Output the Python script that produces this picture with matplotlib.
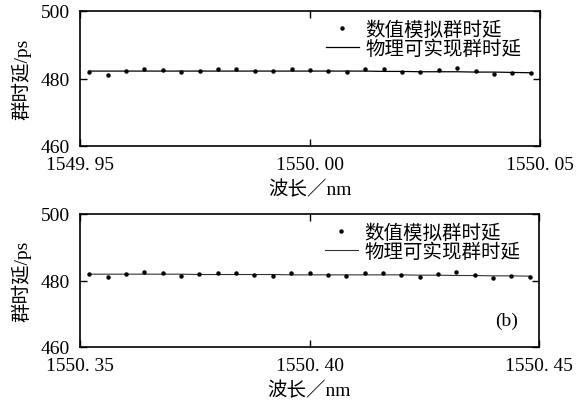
import matplotlib
matplotlib.use("Agg")
import matplotlib.pyplot as plt

plt.rcParams['font.family'] = ['Liberation Serif', 'Noto Sans CJK SC']
plt.rcParams['axes.unicode_minus'] = False

# Panel (a): 1549.95 - 1550.05 nm
wl_a = [1549.952, 1549.956, 1549.960, 1549.964, 1549.968, 1549.972, 1549.976,
        1549.980, 1549.984, 1549.988, 1549.992, 1549.996, 1550.000, 1550.004,
        1550.008, 1550.012, 1550.016, 1550.020, 1550.024, 1550.028, 1550.032,
        1550.036, 1550.040, 1550.044, 1550.048]
sim_a = [482.0, 481.0, 482.2, 482.9, 482.6, 481.8, 482.2, 482.9, 482.7, 482.2,
         482.2, 482.7, 482.6, 482.2, 482.0, 482.7, 482.7, 482.0, 481.8, 482.5,
         483.0, 482.2, 481.2, 481.7, 481.5]
phys_a = [482.2, 482.2, 482.2, 482.2, 482.2, 482.2, 482.2, 482.2, 482.2, 482.2,
          482.2, 482.2, 482.2, 482.2, 482.2, 482.2, 482.1, 482.1, 482.0, 482.0,
          482.0, 481.9, 481.9, 481.8, 481.7]

# Panel (b): 1550.35 - 1550.45 nm
wl_b = [1550.352, 1550.356, 1550.360, 1550.364, 1550.368, 1550.372, 1550.376,
        1550.380, 1550.384, 1550.388, 1550.392, 1550.396, 1550.400, 1550.404,
        1550.408, 1550.412, 1550.416, 1550.420, 1550.424, 1550.428, 1550.432,
        1550.436, 1550.440, 1550.444, 1550.448]
sim_b = [481.9, 481.1, 481.9, 482.7, 482.4, 481.3, 481.9, 482.4, 482.3, 481.6,
         481.5, 482.3, 482.4, 481.6, 481.5, 482.4, 482.4, 481.7, 481.2, 482.1,
         482.7, 481.7, 480.7, 481.3, 481.0]
phys_b = [481.9, 481.9, 481.9, 481.9, 481.9, 481.9, 481.8, 481.8, 481.8, 481.8,
          481.8, 481.7, 481.7, 481.7, 481.7, 481.7, 481.7, 481.7, 481.6, 481.6,
          481.5, 481.5, 481.4, 481.4, 481.3]

xticks_a = [1549.95, 1550.00, 1550.05]
xlabels_a = ['1549. 95', '1550. 00', '1550. 05']
xticks_b = [1550.35, 1550.40, 1550.45]
xlabels_b = ['1550. 35', '1550. 40', '1550. 45']
yticks = [460, 480, 500]
ylabels = ['460', '480', '500']

legend_labels = ['数值模拟群时延', '物理可实现群时延']
xlabel = '波长／nm'
ylabel = '群时延/ps'

fig = plt.figure(figsize=(5.84, 4.06), dpi=100)
ax_a = fig.add_axes([80 / 584, 1 - 147 / 406, 460 / 584, 135 / 406])
ax_b = fig.add_axes([80 / 584, 1 - 348 / 406, 459 / 584, 133 / 406])

FS = 14

def style(ax, wl, sim, phys, xt, xl, line_color, line_w):
    ax.plot(wl, sim, linestyle='none', marker='o', markersize=2.2,
            color='black', label=legend_labels[0], zorder=3)
    ax.plot(wl, phys, color=line_color, linewidth=line_w,
            label=legend_labels[1], zorder=2)
    ax.set_xlim(xt[0], xt[-1])
    ax.set_ylim(yticks[0], yticks[-1])
    ax.set_xticks(xt)
    ax.set_xticklabels(xl)
    ax.set_yticks(yticks)
    ax.set_yticklabels(ylabels)
    ax.tick_params(direction='in', length=5, width=1.0, labelsize=FS,
                   top=True, right=True, pad=7)
    for s in ax.spines.values():
        s.set_linewidth(1.2)
    ax.set_xlabel(xlabel, fontsize=FS, labelpad=5)
    ax.set_ylabel(ylabel, fontsize=FS, labelpad=7)
    ax.legend(loc='upper right', bbox_to_anchor=(0.964, 0.945),
              frameon=False, fontsize=FS, numpoints=1,
              handlelength=1.7, handletextpad=0.35, labelspacing=0.05,
              borderaxespad=0.0, borderpad=0.1)

style(ax_a, wl_a, sim_a, phys_a, xticks_a, xlabels_a, 'black', 0.9)
style(ax_b, wl_b, sim_b, phys_b, xticks_b, xlabels_b, '#333333', 0.8)

ax_b.text(0.93, 0.2, '(b)', transform=ax_b.transAxes, fontsize=FS,
          ha='center', va='center')

fig.savefig('out.png', dpi=100)
